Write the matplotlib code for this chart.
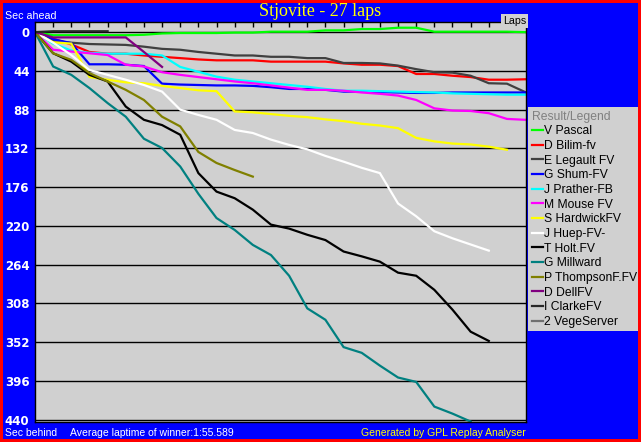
import matplotlib
matplotlib.use('Agg')
import matplotlib.pyplot as plt
from matplotlib.lines import Line2D

# seconds behind (positive = behind), one value per lap starting at lap 0
names = ["V Pascal", "D Bilim-fv", "E Legault FV", "G Shum-FV", "J Prather-FB",
         "M Mouse FV", "S HardwickFV", "J Huep-FV-", "T Holt.FV", "G Millward",
         "P ThompsonF.FV", "D DellFV", "I ClarkeFV", "2 VegeServer"]
colors = ["#00ff00", "#ff0000", "#404040", "#0000ff", "#00ffff", "#ff00ff",
          "#ffff00", "#ffffff", "#000000", "#008080", "#808000", "#800080",
          "#282828", "#707070"]

pascal = [0, 3.5, 3.5, 3.5, 3.5, 3.5, 3, 1.5, 1, 1, 1, 0.5, 0.5, -0.5, -0.5, -0.5,
          -2, -2, -3.5, -3.5, -5, -5, -0.5, -0.5, -0.5, -0.5, -0.5, 0]
bilim = [0, 7.5, 14, 22.5, 24.5, 24.5, 26.5, 28, 29.5, 31, 32, 32, 32, 33.5, 33.5, 33.5,
         33.5, 35.5, 37, 37, 38.5, 47.5, 47.5, 49.5, 51, 54, 54, 53.5]
legault = [0, 10, 12, 13.5, 14, 14.5, 16.5, 19, 20, 22.5, 24.5, 26.5, 26.5, 28, 28, 29.5,
           29.5, 35, 35, 35.5, 38, 42, 45.5, 46, 49.5, 58, 58.5, 68]
shum = [0, 8, 12.5, 36.5, 36.5, 37, 38.5, 58.5, 59.5, 60, 60.5, 60.5, 61, 62.5, 64.5, 64.5,
        65.5, 67.5, 67.5, 68, 68.5, 69, 69, 68.5, 68.5, 68.5, 68.5, 68.5]
prather = [0, 13, 21, 23.5, 24.5, 24.5, 24.5, 26.5, 39.5, 45, 50.5, 54, 56, 58, 60, 62,
           64.5, 66.5, 66.5, 67, 67.5, 68, 68.5, 69.5, 70, 70.5, 71, 71]
mouse = [0, 20, 22, 24, 26, 37, 39, 45.5, 48.5, 51, 53.5, 56, 58, 60.5, 63, 65.5, 65.5,
         66.5, 68.5, 70, 72, 77, 86.5, 89, 89.5, 92, 98.5, 99.5]
hardwick = [0, 11.5, 13, 51, 54, 57, 58, 61, 63.5, 66, 67, 90, 91, 93, 95, 96.5, 99, 101,
            104, 106, 109, 120, 124, 126.5, 127.5, 130, 133.5]
huep = [0, 12, 26, 43, 48.5, 54, 60, 67.5, 88, 94, 99.5, 111, 114.5, 122, 128, 133,
        140.5, 147, 154, 160, 194.5, 209, 226, 234, 241, 248]
holt = [0, 24, 33.5, 48.5, 56, 84.5, 99.5, 105.5, 116.5, 160, 181, 188.5, 201.5, 218.5,
        223, 230, 236, 249, 254.5, 260.5, 273, 276.5, 292.5, 315, 340, 350.5]
millward = [0, 39, 48.5, 63.5, 80.5, 96, 121, 131.5, 152.5, 183.5, 211, 224.5, 241.5, 253,
            276.5, 313.5, 326.5, 357.5, 364, 378.5, 392, 397, 425, 433, 442]
thompson = [0, 24, 31.5, 46.5, 56, 65.5, 77, 96, 107, 136, 148.5, 156.5, 164]
dell = [0, 6, 6, 6, 6, 6, 22.5, 39.5]
clarke = [0, -1, -1, -1, -1]
vege = []

series = [pascal, bilim, legault, shum, prather, mouse, hardwick, huep, holt,
          millward, thompson, dell, clarke, vege]

W, H = 641, 442
fig = plt.figure(figsize=(W / 100, H / 100), dpi=100, facecolor="#0000ff",
                 edgecolor="#ff0000", linewidth=3)
ax = fig.add_axes([35 / W, 1 - 422 / H, 491 / W, 400 / H])
ax.set_facecolor("#d0d0d0")

handles = []
for vals, c, n in zip(series, colors, names):
    ax.plot(range(len(vals)), vals, color=c, lw=1.6, solid_joinstyle="miter")
    handles.append(Line2D([], [], color=c, lw=1.6))

ax.set_xlim(0, 27.05)
ax.set_ylim(442.5, -11.5)
ax.set_yticks(range(0, 441, 44))
ax.set_xticks(range(1, 27))
ax.set_axisbelow(True)
ax.yaxis.grid(True, color="black", lw=1)
ax.tick_params(axis="y", length=0, pad=4, labelcolor="white", labelsize=8.5)
for t in ax.get_yticklabels():
    t.set_fontweight("bold")
ax.tick_params(axis="x", top=True, bottom=False, labeltop=False, labelbottom=False,
               direction="in", length=3.6, width=1, color="black")
for s in ax.spines.values():
    s.set_color("black")
    s.set_linewidth(1)

ax.text(1, 1.002, "Laps", transform=ax.transAxes, ha="right", va="center", fontsize=7.7,
        family="Liberation Sans", color="black", zorder=10, clip_on=False,
        bbox=dict(facecolor="#d0d0d0", edgecolor="none", pad=1.2))

sans = "Liberation Sans"
fig.text(320 / W, 1 - 12 / H, "Stjovite - 27 laps", ha="center", va="center",
         color="#ffff00", fontsize=13, family="Liberation Serif")
fig.text(5 / W, 1 - 16 / H, "Sec ahead", ha="left", va="center", color="white",
         fontsize=7.7, family=sans)
fig.text(5 / W, 1 - 432.5 / H, "Sec behind", ha="left", va="center", color="white",
         fontsize=7.5, family=sans)
fig.text(70 / W, 1 - 432.5 / H, "Average laptime of winner:1:55.589", ha="left",
         va="center", color="white", fontsize=7.5, family=sans)
fig.text(526 / W, 1 - 432.5 / H, "Generated by GPL Replay Analyser", ha="right",
         va="center", color="#ffff00", fontsize=7.5, family=sans)

leg = fig.legend(handles, names, loc="upper left",
                 bbox_to_anchor=(528 / W, 1 - 333 / H, 110 / W, 226 / H),
                 mode="expand", borderaxespad=0, borderpad=0.3, title="Result/Legend",
                 alignment="left", prop={"family": sans, "size": 8.7},
                 title_fontproperties={"family": sans, "size": 8.7},
                 handlelength=0.9, handletextpad=0.15, labelspacing=0.22,
                 fancybox=False, framealpha=1, facecolor="#d0d0d0", edgecolor="#d0d0d0")
leg.get_title().set_color("#808080")
leg.get_frame().set_linewidth(0)

fig.savefig("out.png", dpi=100, facecolor=fig.get_facecolor(),
            edgecolor=fig.get_edgecolor())
